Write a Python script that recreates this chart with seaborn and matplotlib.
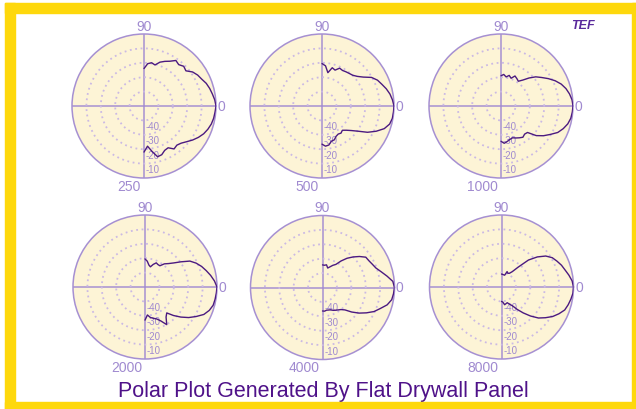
import numpy as np
import pandas as pd

import matplotlib
matplotlib.use("Agg")
import matplotlib.pyplot as plt
from matplotlib.patches import Rectangle
import seaborn as sns


# angles in degrees, from top (90) round the right side to bottom (-90)
angles = [90, 85, 80, 75, 70, 65, 60, 55, 50, 45, 40, 35, 30, 25, 20, 15, 10, 5, 0,
          -5, -10, -15, -20, -25, -30, -35, -40, -45, -50, -55, -60, -65, -70, -75, -80, -85, -90]

freqs = ["250", "500", "1000", "2000", "4000", "8000"]

# normalised level in dB
db_250 = [-24, -20.5, -19.5, -20.5, -17.6, -15.8, -14.1, -11.4, -12.5, -11, -12, -8.8, -7, -5.8, -4,
          -2.8, -1.8, -0.7, 0, -0.5, -0.9, -1.6, -2.8, -4.3, -6.4, -8.8, -11.4, -13.5, -14.5, -13.6,
          -16.5, -16, -14, -13.5, -18, -22, -18]
db_500 = [-20.5, -22, -26.5, -22.5, -23.5, -21, -21.5, -21, -20.5, -19.8, -18, -15, -10.3, -7.5, -5.8,
          -3.8, -2.1, -0.9, 0, -0.2, -0.4, -1.4, -4, -8.5, -13.5, -19.5, -23.5, -26.2, -28, -27,
          -27.5, -26.8, -25, -24.7, -22.5, -22, -23.5]
db_1000 = [-29, -28, -29.5, -28, -29.5, -27, -28, -29, -26.5, -22.5, -18.5, -15.5, -12, -8.5, -5.5,
           -3.3, -1.7, -0.5, 0, -0.3, -0.8, -2, -4, -6.5, -10.5, -14, -18, -24, -24.5, -23.5,
           -24.5, -25.5, -26.5, -26, -25, -24, -25.5]
db_2000 = [-30.5, -32, -34.5, -35.5, -33.3, -31.5, -32, -32, -29, -27, -24, -19.5, -14, -10.8, -8.2,
           -6, -3.7, -1.6, 0, -0.3, -0.6, -1, -2.5, -4.9, -9, -13, -17.5, -22, -26.5, -24.5,
           -19.8, -24, -26.4, -27.5, -28.5, -30.5, -27]
db_4000 = [-34.3, -34.5, -34, -36, -34.7, -33, -31.5, -27.5, -23.5, -20, -16.5, -13.3, -12.8, -11.8, -10.5,
           -7.8, -4.5, -1, 0, -0.5, -1.2, -3.5, -7.3, -10.5, -14.8, -19, -23.5, -28, -30, -31,
           -31.8, -32.5, -33.5, -33.8, -34, -33.5, -33.7]
db_8000 = [-41, -41.2, -41.4, -41.5, -38.6, -39.5, -39, -37, -32, -23.5, -17.5, -12.5, -9.3, -7.5, -5.7,
           -4.3, -2.5, -0.8, 0, -0.2, -1.1, -2.1, -3.3, -6, -9, -12.8, -16.5, -21.5, -26.5, -31,
           -35, -36.8, -38.4, -38, -37.5, -39.5, -40]

all_db = [db_250, db_500, db_1000, db_2000, db_4000, db_8000]

ring_levels = [-40, -30, -20, -10]
ring_labels = ["-40", "-30", "-20", "-10"]

# plot centres in pixels (figure is 636 x 410)
centres = [(144, 107), (322, 107), (501, 107), (145, 288), (322.5, 288.5), (501.5, 288)]
R = 72
W, H = 636, 410

cream = "#fdf4d6"
axis_purple = "#a690d2"
ring_purple = "#cbb9e4"
label_purple = "#a08ad0"
curve_purple = "#4b1a80"
title_purple = "#4f1289"
yellow = "#fed80c"

sns.set_theme(style="white")
plt.rcParams["font.family"] = ["Liberation Sans", "DejaVu Sans"]

fig = plt.figure(figsize=(6.36, 4.10), dpi=100)
fig.patch.set_facecolor("white")

for i, (cx, cy) in enumerate(centres):
    ax = fig.add_axes([(cx - R) / W, (H - cy - R) / H, 2 * R / W, 2 * R / H], projection="polar")
    ax.set_facecolor(cream)

    df = pd.DataFrame({"theta": np.deg2rad(angles), "db": all_db[i]})
    sns.lineplot(data=df, x="theta", y="db", ax=ax, sort=False, estimator=None,
                 color=curve_purple, linewidth=1.0, zorder=5)
    ax.set_xlabel("")
    ax.set_ylabel("")

    ax.set_rlim(-50, 0)
    ax.set_rgrids(ring_levels, labels=[])
    ax.set_thetagrids([0, 90, 180, 270], labels=[])
    ax.yaxis.grid(True, color=ring_purple, linestyle=(0, (1, 2)), linewidth=1.3)
    ax.xaxis.grid(True, color=axis_purple, linestyle="-", linewidth=1.1)
    ax.spines["polar"].set_color(axis_purple)
    ax.spines["polar"].set_linewidth(1.1)
    ax.tick_params(pad=0)

    # angle / frequency labels
    ax.text(0.5, 1 + 1 / (2 * R), "90", transform=ax.transAxes, ha="center", va="bottom",
            fontsize=10, color=label_purple)
    ax.text(1 + 1.5 / (2 * R), 0.5, "0", transform=ax.transAxes, ha="left", va="center",
            fontsize=10, color=label_purple)
    ax.text(0.5 - 3 / (2 * R), -1 / (2 * R), freqs[i], transform=ax.transAxes, ha="right", va="top",
            fontsize=10, color=label_purple)

    # ring labels down the bottom axis
    for lev, lab in zip(ring_levels, ring_labels):
        rpx = (lev + 50) / 50 * R + 5.5
        ax.text(0.5 + 2 / (2 * R), 0.5 - rpx / (2 * R), lab, transform=ax.transAxes,
                ha="left", va="center", fontsize=7, color=label_purple)

fig.text(323.5 / W, 1 - 397 / H, "Polar Plot Generated By Flat Drywall Panel",
         ha="center", va="baseline", fontsize=15.5, color=title_purple)

# small logo at top right
fig.text(583 / W, 1 - 26 / H, "TEF", ha="center", va="center", fontsize=9,
         fontstyle="italic", fontweight="bold", color="#5a2a9c")

# yellow frame
frame = [(5, 4, 10, 406), (5, 4, 631, 10), (632, 4, 4, 406), (5, 403, 631, 7)]
for x0, y0, w, h in frame:
    fig.add_artist(Rectangle((x0 / W, 1 - (y0 + h) / H), w / W, h / H,
                             transform=fig.transFigure, color=yellow, zorder=10))

fig.savefig("out.png", dpi=100)
